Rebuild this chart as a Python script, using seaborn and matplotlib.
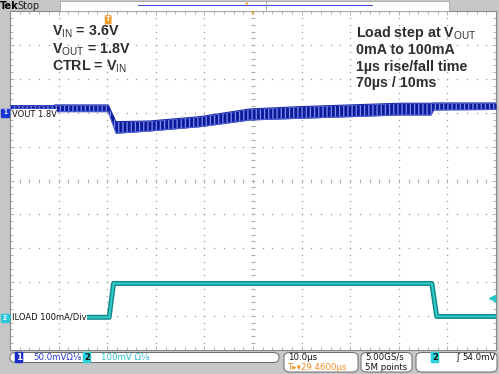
import numpy as np
import pandas as pd
import matplotlib
matplotlib.use("Agg")
import matplotlib.pyplot as plt
from matplotlib.patches import FancyBboxPatch, Rectangle
import seaborn as sns

# time axis: 10 us/div, 10 divisions
# VOUT envelope in mV relative to the ch1 marker (50 mV/div)
vout_t = [0, 9.0, 9.2, 20.2, 21.8, 28.8, 39.1, 49.4, 59.7, 70.0, 80.2, 86.6, 87.2, 100]
vout_hi = [10.6, 10.6, 11.7, 11.7, -13.0, -12.0, -5.6, 5.8, 9.2, 11.7, 14.2, 14.2, 14.6, 14.6]
vout_lo = [5.8, 5.8, 1.8, 1.8, -30.1, -26.7, -20.4, -10.5, -8.0, -5.6, -3.1, -3.1, 4.3, 5.0]

# ILOAD in mA relative to the ch2 marker (100 mA/div)
iload_t = [0, 20.4, 21.3, 86.8, 87.8, 100]
iload_ma = [-4, -4, 96, 96, -1.5, -1.5]

left_notes = [r"V$_{\mathrm{IN}}$ = 3.6V", r"V$_{\mathrm{OUT}}$ = 1.8V", r"CTRL = V$_{\mathrm{IN}}$"]
right_notes = [r"Load step at V$_{\mathrm{OUT}}$", "0mA to 100mA",
               "1\u00b5s rise/fall time", "70\u00b5s / 10ms"]

W, H = 499, 374
sns.set_theme(style="white")
plt.rcParams['font.family'] = ['Liberation Sans', 'DejaVu Sans']
plt.rcParams['mathtext.fontset'] = 'custom'
plt.rcParams['mathtext.rm'] = 'Liberation Sans'
plt.rcParams['hatch.linewidth'] = 0.9

fig = plt.figure(figsize=(W / 100, H / 100), dpi=100, facecolor='#c6c6c6')


def fx(x):
    return x / W


def fy(y):
    return 1 - y / H


ax_l, ax_r, ax_t, ax_b = 10, 496, 11.3, 349.8
ax = fig.add_axes([fx(ax_l), fy(ax_b), (ax_r - ax_l) / W, (ax_b - ax_t) / H])
ax.set_facecolor('white')
ax.set_xlim(0, 100)
ax.set_ylim(-5, 5)
for s in ax.spines.values():
    s.set_color('#8a8a8a')
    s.set_linewidth(0.8)

# graticule: dots on every division line, ticks on the centre cross and border
grid_c = '#a6a6a6'
minor_x = np.arange(0, 100.01, 2)
minor_y = np.arange(-5, 5.01, 0.2)
for gx in range(10, 100, 10):
    ax.scatter(np.full(len(minor_y), gx), minor_y, s=1.2, color=grid_c, lw=0, zorder=1)
for gy in range(-4, 5):
    ax.scatter(minor_x, np.full(len(minor_x), gy), s=1.2, color=grid_c, lw=0, zorder=1)
ax.plot(minor_x, np.zeros(len(minor_x)), ls='none', marker='|', ms=3.2, mew=0.6, color=grid_c, zorder=1)
ax.plot(np.full(len(minor_y), 50), minor_y, ls='none', marker='_', ms=3.2, mew=0.6, color=grid_c, zorder=1)
ax.set_xticks(np.arange(0, 101, 10))
ax.set_yticks(np.arange(-5, 6, 1))
ax.set_xticks(minor_x, minor=True)
ax.set_yticks(minor_y, minor=True)
ax.tick_params(which='both', direction='in', color=grid_c, labelbottom=False, labelleft=False,
               top=True, right=True, bottom=True, left=True)
ax.tick_params(which='major', length=3, width=0.6)
ax.tick_params(which='minor', length=2, width=0.6)

# VOUT band (ch1 at +2 div)
vo_hi = [2 + v / 50 for v in vout_hi]
vo_lo = [2 + v / 50 for v in vout_lo]
ax.fill_between(vout_t, vo_lo, vo_hi, color='#0c1a9a', lw=0, zorder=3)
ax.fill_between(vout_t, vo_lo, vo_hi, facecolor='none', edgecolor='#7f8ef0', hatch='||||', lw=0, zorder=3)
ax.plot(vout_t, vo_hi, color='#1a2cb0', lw=0.8, zorder=3)
ax.plot(vout_t, vo_lo, color='#4a5ed8', lw=0.8, zorder=3)

# ILOAD trace (ch2 at -4 div)
df_i = pd.DataFrame({'t': iload_t, 'div': [-4 + i / 100 for i in iload_ma]})
sns.lineplot(data=df_i, x='t', y='div', ax=ax, color='#128a8b', lw=3.6, zorder=3, sort=False)
sns.lineplot(data=df_i, x='t', y='div', ax=ax, color='#30c8c8', lw=1.5, zorder=3, sort=False)
ax.set_xlabel('')
ax.set_ylabel('')

# channel labels on the graticule
ax.text(0.4, 2 - 0.04, "VOUT 1.8V", fontsize=6, family='DejaVu Sans', color='#111111', va='center',
        bbox=dict(fc='white', ec='none', pad=0.3), zorder=4)
ax.text(0.4, -4 - 0.04, "ILOAD 100mA/Div", fontsize=6, family='DejaVu Sans', color='#111111', va='center',
        bbox=dict(fc='white', ec='none', pad=0.6), zorder=4)
# trigger marker and level
ax.text(20.2, 4.75, "T", fontsize=5.5, color='white', ha='center', va='center', weight='bold',
        bbox=dict(boxstyle='round,pad=0.15', fc='#f0a030', ec='none'), zorder=5)
ax.plot([99.2], [-4 + 54 / 100], marker='<', ms=4, color='#22c8c8', clip_on=False, zorder=5)

# annotations
for i, s in enumerate(left_notes):
    fig.text(fx(52), fy(32 + 17.5 * i), s, fontsize=10.3, weight='bold', color='#2e2e2e', va='center')
for i, s in enumerate(right_notes):
    fig.text(fx(356), fy(33 + 16.8 * i), s, fontsize=10.3, weight='bold', color='#2e2e2e', va='center')

# channel markers on the left strip
fig.add_artist(Rectangle((fx(1), fy(117)), fx(8), 8 / H, color='#1a36d0', transform=fig.transFigure))
fig.text(fx(5), fy(113), "1", fontsize=5, color='white', ha='center', va='center', weight='bold')
fig.add_artist(Rectangle((fx(1), fy(322)), fx(8), 8 / H, color='#2cc8d8', transform=fig.transFigure))
fig.text(fx(5), fy(318), "2", fontsize=5, color='white', ha='center', va='center', weight='bold')

# top status bar
fig.add_artist(Rectangle((fx(60), fy(10.5)), fx(389), 10 / H, fc='white', ec='#9a9a9a', lw=0.5,
                         transform=fig.transFigure))
fig.add_artist(plt.Line2D([fx(138), fx(372)], [fy(5), fy(5)], color='#4050d0', lw=0.8,
                          transform=fig.transFigure))
fig.add_artist(plt.Line2D([fx(266), fx(266)], [fy(1), fy(10)], color='#9a9a9a', lw=0.6,
                          transform=fig.transFigure))
fig.text(fx(247), fy(4), "\u25bc", fontsize=4, color='#f0a030', ha='center', va='center')
fig.text(fx(0), fy(6), "Tek", fontsize=7, weight='bold', color='black', va='center', family='DejaVu Sans')
fig.text(fx(17), fy(6), "Stop", fontsize=7, color='#222222', va='center', family='DejaVu Sans')
fig.text(fx(253), fy(13), "\u25bc", fontsize=4, color='#f0a030', ha='center', va='center')

# bottom readout boxes
def box(x0, y0, x1, y1):
    fig.add_artist(FancyBboxPatch((fx(x0), fy(y1)), fx(x1 - x0), (y1 - y0) / H,
                                  boxstyle='round,pad=0,rounding_size=0.012', fc='white', ec='#6a6a6a',
                                  lw=0.7, transform=fig.transFigure))


box(10, 352.5, 279, 362.5)
box(284, 352.5, 358, 372)
box(361, 352.5, 412, 372)
box(416, 352.5, 497, 372)

mono = dict(family='DejaVu Sans', fontsize=6.2, va='center')
fig.text(fx(19), fy(357.5), "1", color='white', ha='center', weight='bold',
         bbox=dict(boxstyle='round,pad=0.15', fc='#1a30c8', ec='none'), **mono)
fig.text(fx(33), fy(357.5), "50.0mV\u03a9\u215b", color='#2a3ad0', **mono)
fig.text(fx(87), fy(357.5), "2", color='#111111', ha='center', weight='bold',
         bbox=dict(boxstyle='round,pad=0.15', fc='#2cd0d8', ec='none'), **mono)
fig.text(fx(101), fy(357.5), "100mV \u03a9\u215b", color='#30c0d0', **mono)
fig.text(fx(288), fy(357.5), "10.0\u00b5s", color='#111111', **mono)
fig.text(fx(288), fy(367), "T\u25b8\u25be29.4600\u00b5s", color='#f09020', **mono)
fig.text(fx(365), fy(357.5), "5.00GS/s", color='#111111', **mono)
fig.text(fx(365), fy(367), "5M points", color='#111111', **mono)
fig.text(fx(435), fy(357.5), "2", color='#111111', ha='center', weight='bold',
         bbox=dict(boxstyle='round,pad=0.15', fc='#2cd0d8', ec='none'), **mono)
fig.text(fx(458), fy(357.5), "\u0283", color='#111111', ha='center', **mono)
fig.text(fx(496), fy(357.5), "54.0mV", color='#111111', ha='right', **mono)

fig.savefig("out.png", dpi=100, facecolor=fig.get_facecolor())
